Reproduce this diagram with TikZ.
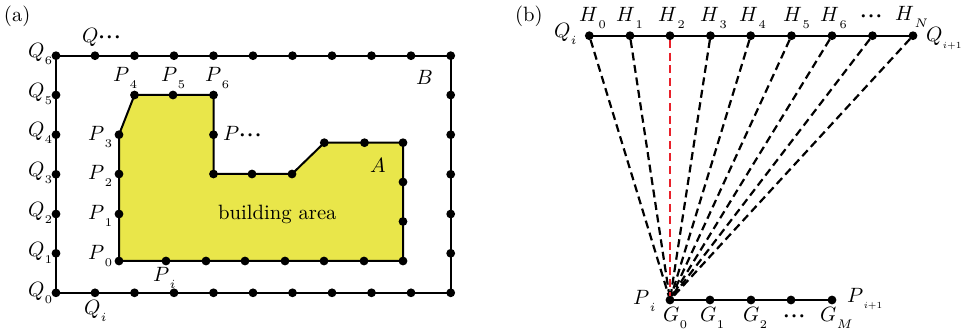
\documentclass[tikz,border=0pt]{standalone}
\usetikzlibrary{backgrounds}
\definecolor{bldyellow}{HTML}{E9E64A}
\definecolor{redline}{HTML}{E8202A}
\newcommand{\lb}[2]{$#1$\raisebox{-3pt}{\fontsize{5.7}{5.7}\selectfont\hspace{0.3pt}#2}}
\newcommand{\myell}{{\boldmath${\cdot}\kern0.6pt{\cdot}\kern0.6pt{\cdot}$}}
\tikzset{
  dot/.style={circle,fill=black,draw=none,minimum size=8.8pt,inner sep=0pt,outer sep=0pt},
  lab/.style={anchor=base west,inner sep=0pt,outer sep=0pt,scale=2.07,text=black},
  solidline/.style={line width=2pt,line join=miter},
  ray/.style={line width=2.2pt,dash pattern=on 8pt off 4.6pt},
}
\begin{document}
\begin{tikzpicture}[x=1pt,y=-1pt]
\useasboundingbox (0,0) rectangle (962,331);
% outer rectangle dots
\foreach \n/\x in {0/56,1/95,2/134.5,3/174,4/213.5,5/253,6/292.5,7/332,8/371.5,9/411,10/450.7}{
  \node[dot] (qb\n) at (\x,292.8) {};
  \node[dot] (qt\n) at (\x,55.7) {};
}
\foreach \n/\y in {1/253.3,2/214,3/174.3,4/134.7,5/95}{
  \node[dot] (ql\n) at (56,\y) {};
  \node[dot] (qr\n) at (450.7,\y) {};
}
% building dots
\foreach \n/\x/\y in {0/119/261,1/119/214,2/119/174,3/119/134.7,4/134.5/95,5/173/95,6/213.5/95,
  7/213.5/134.7,8/213.5/174,9/252/174,10/292/174,11/324.3/142.7,12/364.5/142.7,13/403/142.7,
  14/403/182,15/403/221.5,16/403/261,17/364/261,18/324/261,19/285/261,20/245/261,21/206/261,22/166/261}{
  \node[dot] (p\n) at (\x,\y) {};
}
% panel b dots
\foreach \n/\x in {0/589.3,1/630,2/670,3/710.5,4/750.7,5/791.5,6/832,7/872.5,8/913}{
  \node[dot] (h\n) at (\x,35.7) {};
}
\foreach \n/\x in {0/670,1/710,2/751,3/791,4/832}{
  \node[dot] (g\n) at (\x,300) {};
}
\begin{scope}[on background layer]
  \fill[bldyellow] (p0.center)--(p3.center)--(p4.center)--(p6.center)--(p8.center)--(p10.center)--(p11.center)--(p13.center)--(p16.center)--cycle;
  \draw[solidline] (p0.center)--(p3.center)--(p4.center)--(p6.center)--(p8.center)--(p10.center)--(p11.center)--(p13.center)--(p16.center)--cycle;
  \draw[solidline] (qb0.center)--(qt0.center)--(qt10.center)--(qb10.center)--cycle;
  \draw[solidline] (h0.center)--(h8.center);
  \draw[solidline] (g0.center)--(g4.center);
\end{scope}
% rays
\foreach \n in {0,1,3,4,5,6,7,8}{
  \draw[ray] (h\n) -- (g0);
}
\draw[ray,redline] (h2) -- (g0);
% panel a labels
\node[lab] (ta) at (4,22) {(a)};
\node[lab] (l1) at (28,58) {\lb{Q}{6}};
\node[lab] (l2) at (28,98) {\lb{Q}{5}};
\node[lab] (l3) at (28,137) {\lb{Q}{4}};
\node[lab] (l4) at (28,177) {\lb{Q}{3}};
\node[lab] (l5) at (28,217) {\lb{Q}{2}};
\node[lab] (l6) at (28,257) {\lb{Q}{1}};
\node[lab] (l7) at (28,297) {\lb{Q}{0}};
\node[lab] (l8) at (82,43) {$Q$\myell};
\node[lab] (l9) at (84,315) {\lb{Q}{$i$}};
\node[lab] (l10) at (113,82) {\lb{P}{4}};
\node[lab] (l11) at (161,82) {\lb{P}{5}};
\node[lab] (l12) at (205,82) {\lb{P}{6}};
\node[lab] (l13) at (88,141) {\lb{P}{3}};
\node[lab] (l14) at (223,141) {$P$\myell};
\node[lab] (l15) at (88,180) {\lb{P}{2}};
\node[lab] (l16) at (88,220) {\lb{P}{1}};
\node[lab] (l17) at (88,260) {\lb{P}{0}};
\node[lab] (l18) at (153,282) {\lb{P}{$i$}};
\node[lab] (l19) at (416,85) {$B$};
\node[lab] (l20) at (370,173) {$A$};
\node[lab] (l21) at (218,220) {building area};
% panel b labels
\node[lab] (tb) at (515,22) {(b)};
\node[lab] (h0l) at (579,22) {\lb{H}{0}};
\node[lab] (h1l) at (616,22) {\lb{H}{1}};
\node[lab] (h2l) at (658,22) {\lb{H}{2}};
\node[lab] (h3l) at (700,22) {\lb{H}{3}};
\node[lab] (h4l) at (739,22) {\lb{H}{4}};
\node[lab] (h5l) at (783,22) {\lb{H}{5}};
\node[lab] (h6l) at (820,22) {\lb{H}{6}};
\node[lab] (hdl) at (860,22) {\myell};
\node[lab] (hnl) at (895,21) {\lb{H}{$N$}};
\node[lab] (qil) at (554,38) {\lb{Q}{$i$}};
\node[lab] (qjl) at (926,42) {\lb{Q}{\scalebox{0.75}{$i{+}1$}}};
\node[lab] (pil) at (633,305) {\lb{P}{$i$}};
\node[lab] (pjl) at (847,302) {\lb{P}{\scalebox{0.75}{$i{+}1$}}};
\node[lab] (g0l) at (663,322) {\lb{G}{0}};
\node[lab] (g1l) at (700,322) {\lb{G}{1}};
\node[lab] (g2l) at (743,322) {\lb{G}{2}};
\node[lab] (gdl) at (783,322) {\myell};
\node[lab] (gml) at (820,322) {\lb{G}{$M$}};
\end{tikzpicture}
\end{document}
